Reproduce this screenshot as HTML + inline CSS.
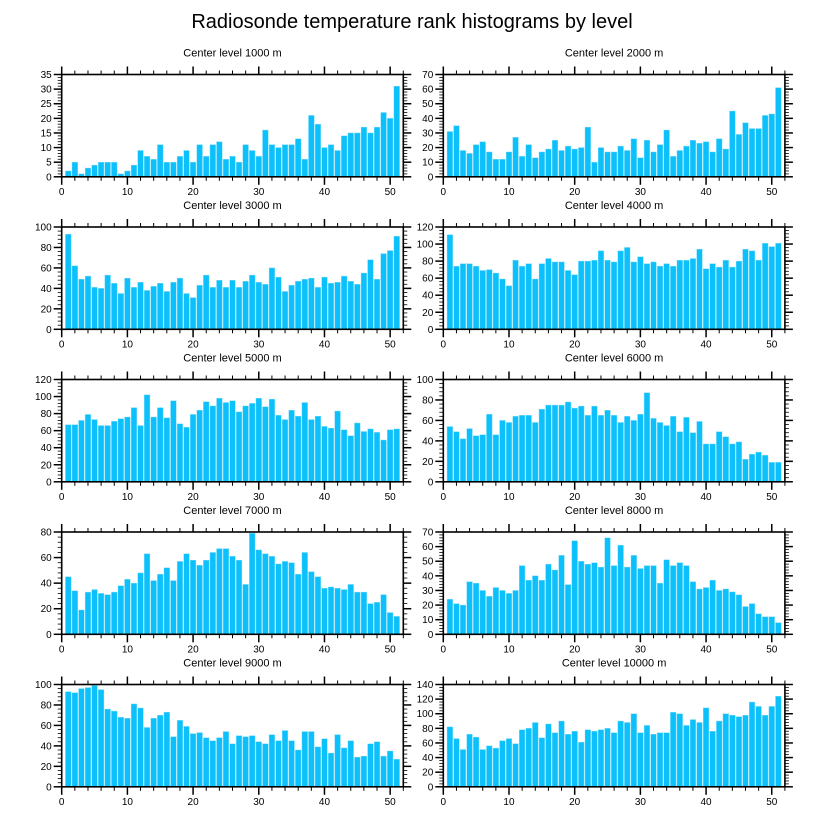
<!DOCTYPE html>
<html><head><meta charset="utf-8"><style>
html,body{margin:0;padding:0;background:#fff;}
svg{display:block;font-family:"Liberation Sans",Arial,sans-serif;}
</style></head><body>
<svg id="chart" width="824" height="824" viewBox="0 0 824 824">
<text x="412" y="28" text-anchor="middle" font-size="20">Radiosonde temperature rank histograms by level</text>
</svg>
<script>
const levels = ["1000","2000","3000","4000","5000","6000","7000","8000","9000","10000"];
const yMaxes = [35,70,100,120,120,100,80,70,100,140];
const yMajor = [5,10,20,20,20,20,20,10,20,20];
const xTicks = [0,10,20,30,40,50];
const v1000 = [2,5,1,3,4,5,5,5,1,2,4,9,7,6,11,5,5,7,9,5,11,7,11,12,6,7,5,11,9,7,16,11,10,11,11,13,6,21,18,10,11,9,14,15,15,17,15,17,22,20,31];
const v2000 = [31,35,18,16,22,24,17,12,12,17,27,14,22,13,17,19,25,18,21,19,20,34,10,20,17,17,21,18,26,13,25,17,22,32,14,18,21,25,23,24,17,26,19,45,29,37,33,33,42,43,61];
const v3000 = [93,62,49,52,41,40,53,45,35,50,41,46,38,42,45,37,46,50,35,31,43,53,41,48,41,48,41,47,53,46,44,60,51,37,43,47,49,50,41,51,45,46,52,47,44,55,68,49,74,77,91];
const v4000 = [111,74,77,77,74,69,70,66,59,51,81,74,77,59,77,83,79,79,69,64,80,80,81,92,81,79,92,96,79,85,77,79,74,77,74,81,81,83,94,71,77,73,81,73,80,94,92,81,101,97,101];
const v5000 = [67,67,72,79,73,66,66,71,74,76,87,66,102,76,87,75,95,68,64,79,84,94,89,98,93,95,82,89,92,98,88,97,78,73,84,77,93,73,77,65,63,83,61,54,69,59,62,58,49,61,62];
const v6000 = [54,49,42,52,45,46,66,46,60,58,64,65,65,58,71,75,75,75,78,72,74,65,74,65,70,65,58,64,60,66,87,62,58,55,64,49,63,48,59,37,37,49,44,37,39,22,27,29,26,19,19];
const v7000 = [45,34,19,33,35,32,31,33,38,43,40,48,63,42,47,52,42,57,63,58,54,58,64,67,67,61,58,39,79,66,63,61,55,57,56,47,64,49,45,36,37,36,35,39,33,33,24,25,31,17,14];
const v8000 = [24,21,20,36,35,30,26,32,30,28,30,47,37,40,37,48,44,54,34,64,50,48,49,46,66,47,61,46,54,45,47,47,35,51,47,49,47,36,31,32,37,30,31,29,27,19,21,14,12,12,8];
const v9000 = [93,92,96,97,99,95,76,74,68,67,81,77,58,67,70,73,49,65,59,52,53,48,45,48,54,42,50,49,50,44,42,51,45,55,45,36,54,54,39,47,33,51,38,45,29,30,42,44,30,35,27];
const v10000 = [82,66,51,72,68,51,56,53,63,66,59,78,80,88,67,86,74,90,72,76,61,78,76,78,80,74,90,88,100,74,84,72,74,74,102,100,84,92,88,108,76,90,100,98,96,98,116,110,98,110,124];
const series = [v1000,v2000,v3000,v4000,v5000,v6000,v7000,v8000,v9000,v10000];

const NS = "http://www.w3.org/2000/svg";
const svg = document.getElementById("chart");
function mk(tag, attrs, parent){
  const e = document.createElementNS(NS, tag);
  for (const k in attrs) e.setAttribute(k, attrs[k]);
  parent.appendChild(e); return e;
}
const colX = [61.7, 443.3];
const rowY = [74.5, 227, 379.5, 532, 684.5];
const W = 341.6, H = 102.3, XMAX = 52;

series.forEach((vals, i) => {
  const px = colX[i % 2], py = rowY[Math.floor(i / 2)];
  const ymax = yMaxes[i], step = yMajor[i];
  const sx = v => px + v / XMAX * W;
  const sy = v => py + H - v / ymax * H;
  const g = mk("g", {}, svg);
  
  
  const t = mk("text", {x: px + W / 2, y: py - 18, "text-anchor": "middle", "font-size": "11"}, g);
  t.textContent = "Center level " + levels[i] + " m";
  
  
  // bars
  vals.forEach((v, k) => {
    const c = k + 1;
    const r = mk("rect", {x: sx(c - 0.43), y: sy(v), width: 0.86 / XMAX * W, height: sy(0) - sy(v), fill: "#0cc0fc", stroke: "#7fdcfd", "stroke-width": "0.4"}, g);
    
    
  });
  // frame
  const f = mk("rect", {x: px, y: py, width: W, height: H, fill: "none", stroke: "#000", "stroke-width": "1.6"}, g);
  
  
  // x ticks
  for (let x = 0; x <= XMAX; x += 2) {
    const major = x % 10 === 0, L = major ? 8 : 4;
    mk("line", {x1: sx(x), x2: sx(x), y1: py + H, y2: py + H + L, stroke: "#000", "stroke-width": major ? 1.5 : 1}, g);
    mk("line", {x1: sx(x), x2: sx(x), y1: py, y2: py - L, stroke: "#000", "stroke-width": major ? 1.5 : 1}, g);
  }
  xTicks.forEach(x => {
    const l = mk("text", {x: sx(x), y: py + H + 18, "text-anchor": "middle", "font-size": "10"}, g);
    l.textContent = x;
    
    
  });
  // y ticks
  const minor = step / 5;
  for (let j = 0; j * minor <= ymax + 1e-9; j++) {
    const y = j * minor, major = j % 5 === 0, L = major ? 8 : 4;
    mk("line", {x1: px, x2: px - L, y1: sy(y), y2: sy(y), stroke: "#000", "stroke-width": major ? 1.5 : 0.8}, g);
    mk("line", {x1: px + W, x2: px + W + L, y1: sy(y), y2: sy(y), stroke: "#000", "stroke-width": major ? 1.5 : 0.8}, g);
    if (major) {
      const l = mk("text", {x: px - 10, y: sy(y) + 3.5, "text-anchor": "end", "font-size": "10"}, g);
      l.textContent = y;
      
      
    }
  }
});
</script>
</body></html>
